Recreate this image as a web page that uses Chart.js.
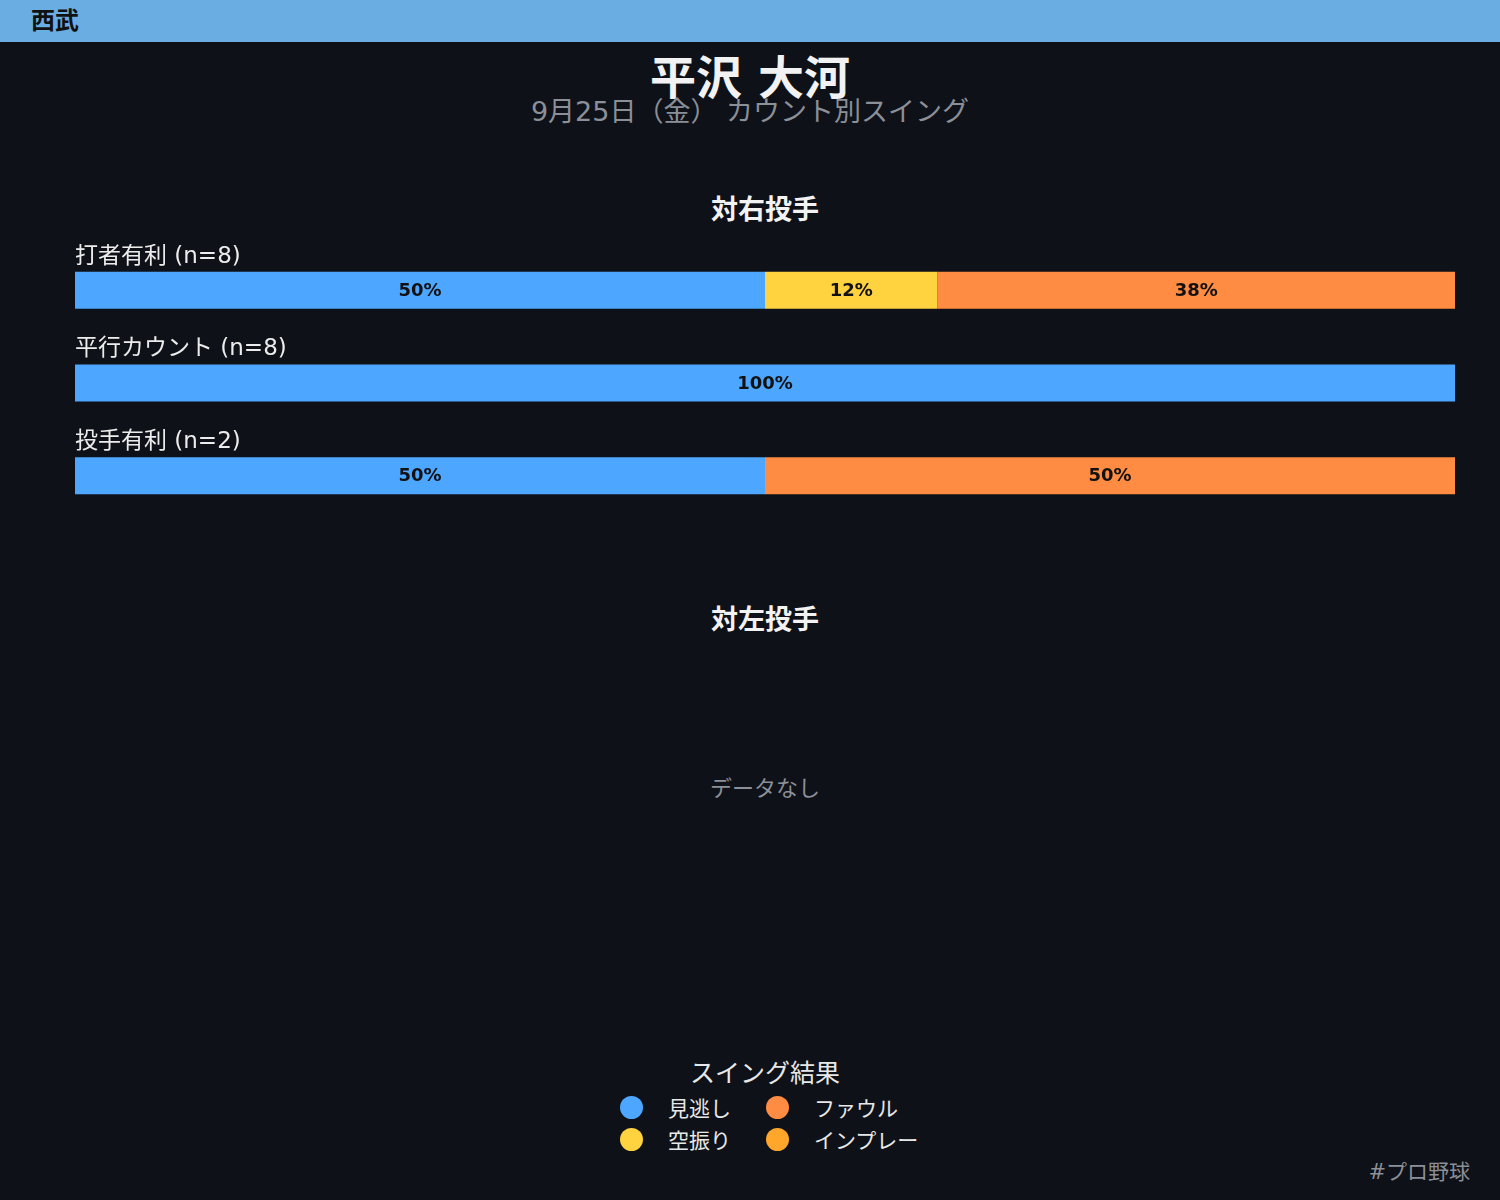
<!DOCTYPE html>
<html><head><meta charset="utf-8">
<script src="https://cdn.jsdelivr.net/npm/chart.js@4"></script>
<style>
html,body{margin:0;padding:0;background:#0e1117;width:1500px;height:1200px;overflow:hidden;font-family:"DejaVu Sans","Noto Sans CJK JP",sans-serif;}
#hdr{position:absolute;left:0;top:0;width:1500px;height:42px;background:#6aade2;}
#hdr span{position:absolute;left:31px;top:1px;font-size:24px;font-weight:bold;color:#111;}
.t{position:absolute;width:1500px;text-align:center;left:0;}
#title{top:41px;font-size:46px;font-weight:bold;color:#f2f2f2;}
#sub{top:90px;font-size:27px;color:#8b8f98;}
.h{position:absolute;left:0;width:1530px;text-align:center;font-size:27px;font-weight:bold;color:#f2f2f2;}
#nodata{position:absolute;left:0;width:1530px;text-align:center;top:770px;font-size:22px;color:#8b8f98;}
#cwrap{position:absolute;left:75px;top:244px;width:1380px;height:278px;}
#legtitle{position:absolute;left:0;width:1530px;text-align:center;top:1053px;font-size:25px;color:#e8e8e8;}
.li{position:absolute;font-size:21px;color:#e8e8e8;}
.dot{position:absolute;width:23px;height:23px;border-radius:50%;}
#tag{position:absolute;right:30px;top:1155px;font-size:21px;color:#8b8f98;}
</style></head>
<body>
<div id="hdr"><span>西武</span></div>
<div class="t" id="title">平沢 大河</div>
<div class="t" id="sub">9月25日（金） カウント別スイング</div>
<div class="h" style="top:188px">対右投手</div>
<div id="cwrap"><canvas id="c"></canvas></div>
<div class="h" style="top:598px">対左投手</div>
<div id="nodata">データなし</div>
<div id="legtitle">スイング結果</div>
<div id="legend"></div>
<div id="tag">#プロ野球</div>
<script>
const categories = ["打者有利 (n=8)", "平行カウント (n=8)", "投手有利 (n=2)"];
const seriesNames = ["見逃し", "空振り", "ファウル", "インプレー"];
const seriesColors = ["#4da6ff", "#ffd23f", "#ff8c42", "#ffa62b"];
const miss = [50, 100, 50];
const whiff = [12.5, 0, 0];
const foul = [37.5, 0, 50];
const inplay = [0, 0, 0];
const seriesValues = [miss, whiff, foul, inplay];

function roundHalfEven(v){
  const f = Math.floor(v), d = v - f;
  if (Math.abs(d - 0.5) < 1e-9) return (f % 2 === 0) ? f : f + 1;
  return Math.round(v);
}

const labelPlugin = {
  id: 'labels',
  afterDatasetsDraw(chart){
    const ctx = chart.ctx;
    ctx.save();
    ctx.font = '23px "DejaVu Sans","Noto Sans CJK JP"';
    ctx.fillStyle = '#ececec';
    ctx.textAlign = 'left';
    ctx.textBaseline = 'middle';
    const meta0 = chart.getDatasetMeta(0);
    categories.forEach((c, i) => {
      const bar = meta0.data[i];
      const top = bar.y - bar.height / 2;
      ctx.fillText(c, chart.chartArea.left, top - 15);
    });
    ctx.font = 'bold 18px "DejaVu Sans"';
    ctx.fillStyle = '#111';
    ctx.textAlign = 'center';
    chart.data.datasets.forEach((ds, di) => {
      const meta = chart.getDatasetMeta(di);
      meta.data.forEach((bar, i) => {
        const v = ds.data[i];
        if (!v) return;
        const cx = (bar.x + bar.base) / 2;
        ctx.fillText(roundHalfEven(v) + '%', cx, bar.y + 1);
      });
    });
    ctx.restore();
  }
};

new Chart(document.getElementById('c'), {
  type: 'bar',
  data: {
    labels: categories,
    datasets: seriesNames.map((n, i) => ({
      label: n,
      data: seriesValues[i],
      backgroundColor: seriesColors[i],
      borderWidth: 0,
      categoryPercentage: 1,
      barPercentage: 0.4
    }))
  },
  options: {
    indexAxis: 'y',
    responsive: true,
    maintainAspectRatio: false,
    animation: false,
    layout: { padding: 0 },
    plugins: { legend: { display: false }, tooltip: { enabled: false } },
    scales: {
      x: { stacked: true, min: 0, max: 100, display: false },
      y: { stacked: true, display: false }
    }
  },
  plugins: [labelPlugin]
});

const leg = document.getElementById('legend');
const pos = [[620, 1096], [620, 1128], [766, 1096], [766, 1128]];
seriesNames.forEach((n, i) => {
  const p = pos[i];
  const d = document.createElement('div');
  d.className = 'dot';
  d.style.left = p[0] + 'px'; d.style.top = p[1] + 'px';
  d.style.background = seriesColors[i];
  leg.appendChild(d);
  const t = document.createElement('div');
  t.className = 'li';
  t.textContent = n;
  t.style.left = (p[0] + 48) + 'px'; t.style.top = (p[1] - 4) + 'px';
  leg.appendChild(t);
});
</script>
</body></html>
